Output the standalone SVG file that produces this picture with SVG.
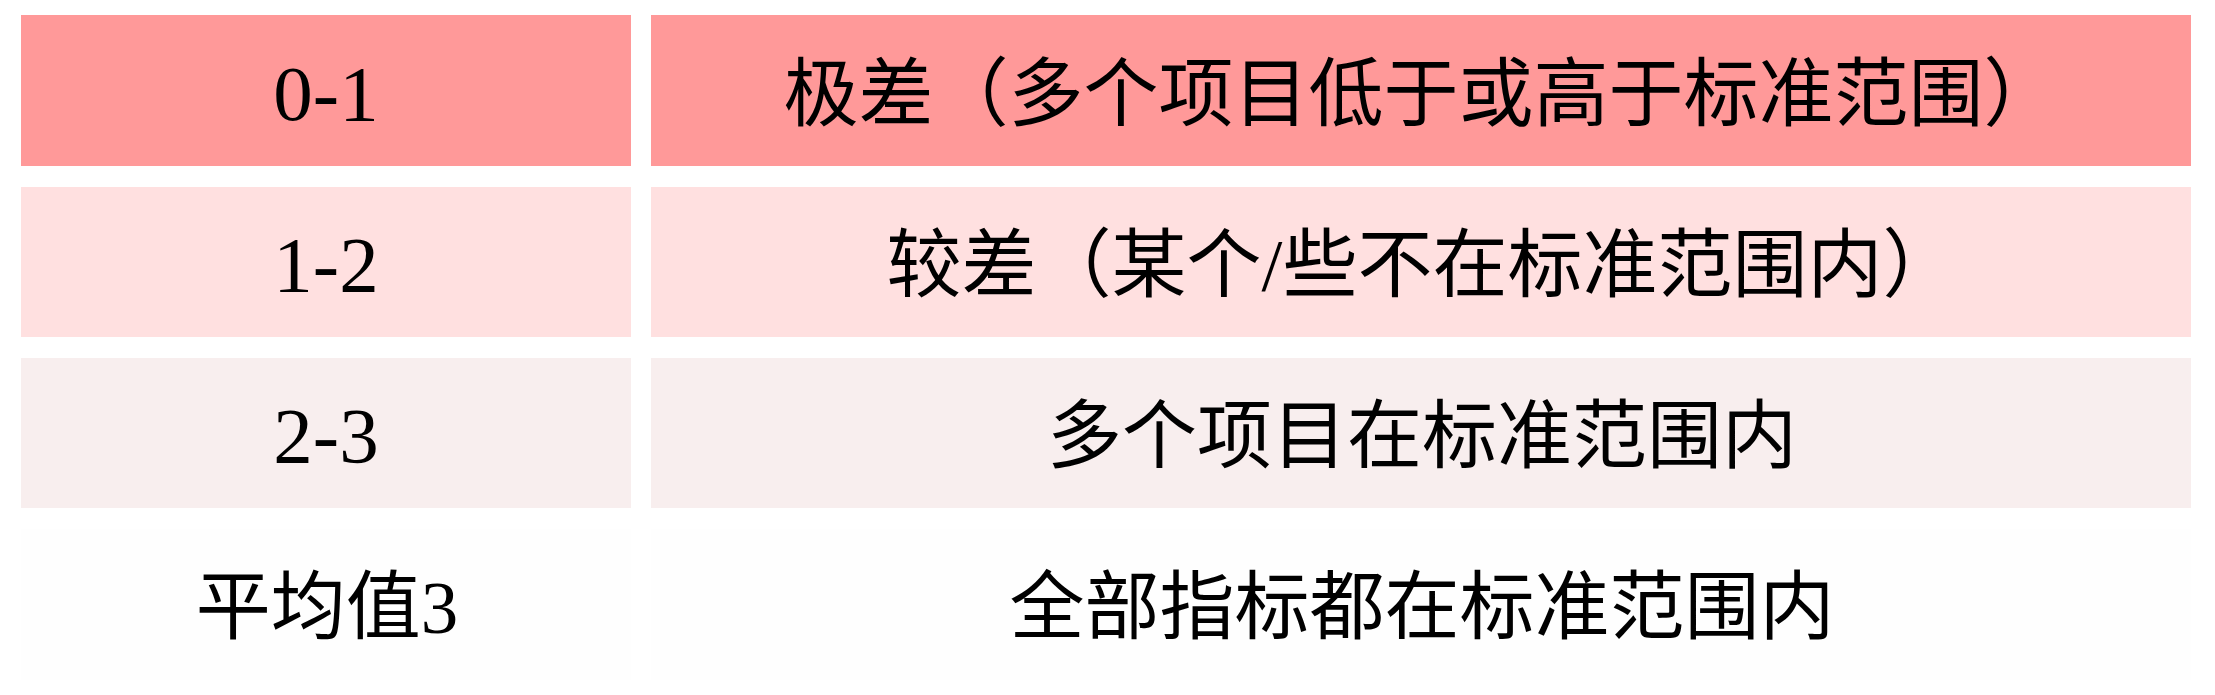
<svg xmlns="http://www.w3.org/2000/svg" width="2215" height="695" viewBox="0 0 2215 695">
<style>
.num{font-family:"Liberation Serif","Noto Sans CJK SC",serif;font-size:79px;fill:#000;text-anchor:middle}
.txt{font-family:"Liberation Serif","Noto Sans CJK SC",serif;font-size:75px;fill:#000;text-anchor:middle}
.r1{fill:#FF9999}
.r2{fill:#FFE0E0}
.r3{fill:#F8EEEE}
.r4{fill:#FEFEFE}
</style>
<rect width="2215" height="695" fill="#FFFFFF"/>
<g id="row1-score">
<rect class="r1" x="21" y="15" width="610" height="151"/>
<text class="num" x="326" y="120">0-1</text>
</g>
<g id="row1-desc">
<rect class="r1" x="651" y="15" width="1540" height="151"/>
<text class="txt" x="1421" y="120">极差（多个项目低于或高于标准范围）</text>
</g>
<g id="row2-score">
<rect class="r2" x="21" y="187" width="610" height="150"/>
<text class="num" x="326" y="291">1-2</text>
</g>
<g id="row2-desc">
<rect class="r2" x="651" y="187" width="1540" height="150"/>
<text class="txt" x="1422" y="291">较差（某个/些不在标准范围内）</text>
</g>
<g id="row3-score">
<rect class="r3" x="21" y="358" width="610" height="150"/>
<text class="num" x="326" y="462">2-3</text>
</g>
<g id="row3-desc">
<rect class="r3" x="651" y="358" width="1540" height="150"/>
<text class="txt" x="1422" y="462">多个项目在标准范围内</text>
</g>
<g id="row4-score">
<rect class="r4" x="21" y="529.5" width="610" height="150"/>
<text class="txt" x="327" y="633">平均值3</text>
</g>
<g id="row4-desc">
<rect class="r4" x="651" y="529.5" width="1540" height="150"/>
<text class="txt" x="1422" y="633">全部指标都在标准范围内</text>
</g>
<g id="connectors"></g>
</svg>
